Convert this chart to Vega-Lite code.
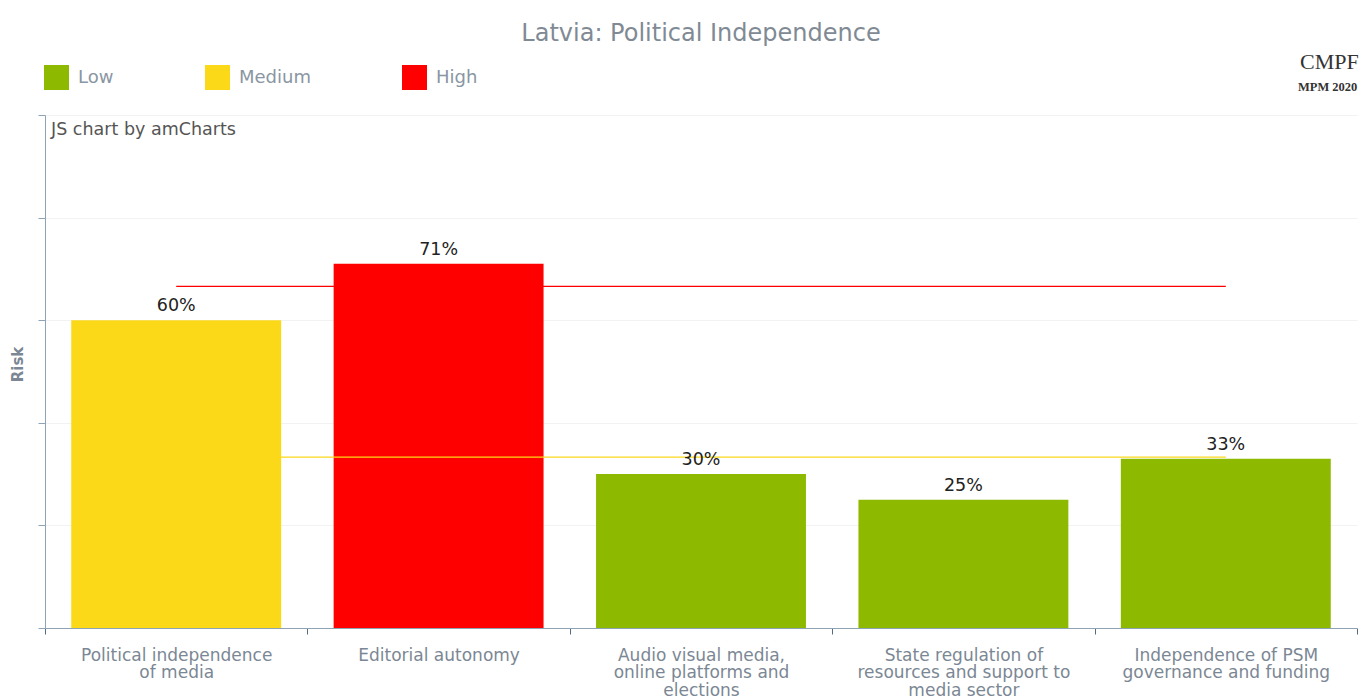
{
  "$schema": "https://vega.github.io/schema/vega-lite/v6.json",
  "autosize": {"type": "none"},
  "width": 1312,
  "height": 513,
  "padding": {"left": 45, "top": 115, "right": 3, "bottom": 69},
  "background": "white",
  "config": {
    "font": "DejaVu Sans",
    "view": {"stroke": null}
  },
  "title": {
    "text": "Latvia: Political Independence",
    "fontSize": 24,
    "fontWeight": "normal",
    "color": "#7f8a94",
    "anchor": "middle",
    "offset": 5
  },
  "datasets": {
    "bars": [
      {"indicator": "Political independence of media", "risk": 60, "level": "Medium", "label": "60%"},
      {"indicator": "Editorial autonomy", "risk": 71, "level": "High", "label": "71%"},
      {"indicator": "Audio visual media, online platforms and elections", "risk": 30, "level": "Low", "label": "30%"},
      {"indicator": "State regulation of resources and support to media sector", "risk": 25, "level": "Low", "label": "25%"},
      {"indicator": "Independence of PSM governance and funding", "risk": 33, "level": "Low", "label": "33%"}
    ],
    "thresholds": [
      {"band": "Medium", "value": 33.3, "from": "Political independence of media", "to": "Independence of PSM governance and funding"},
      {"band": "High", "value": 66.6, "from": "Political independence of media", "to": "Independence of PSM governance and funding"}
    ]
  },
  "layer": [
    {
      "data": {"name": "bars"},
      "mark": {"type": "bar", "width": {"band": 0.8}},
      "encoding": {
        "x": {
          "field": "indicator",
          "type": "nominal",
          "sort": null,
          "scale": {"paddingInner": 0, "paddingOuter": 0},
          "axis": {
            "title": null,
            "labelAngle": 0,
            "labelFontSize": 17,
            "labelColor": "#7b8794",
            "labelPadding": 13,
            "labelLineHeight": 17.5,
            "labelBaseline": "top",
            "labelLimit": 0,
            "tickBand": "extent",
            "tickSize": 6,
            "tickColor": "#4f6b86",
            "domainColor": "#8fa3b6",
            "grid": false,
            "labelExpr": "datum.value == 'Political independence of media' ? ['Political independence', 'of media'] : datum.value == 'Audio visual media, online platforms and elections' ? ['Audio visual media,', 'online platforms and', 'elections'] : datum.value == 'State regulation of resources and support to media sector' ? ['State regulation of', 'resources and support to', 'media sector'] : datum.value == 'Independence of PSM governance and funding' ? ['Independence of PSM', 'governance and funding'] : datum.value"
          }
        },
        "y": {
          "field": "risk",
          "type": "quantitative",
          "scale": {"domain": [0, 100], "nice": false},
          "axis": {
            "title": "Risk",
            "titleFontSize": 15,
            "titleFontWeight": "bold",
            "titleColor": "#7b8794",
            "titlePadding": 12,
            "titleY": 249,
            "labels": false,
            "values": [0, 20, 40, 60, 80, 100],
            "tickSize": 7,
            "tickColor": "#8fa3b6",
            "domainColor": "#8fa3b6",
            "gridColor": "#f2f2f2"
          }
        },
        "color": {
          "field": "level",
          "type": "nominal",
          "scale": {"domain": ["Low", "Medium", "High"], "range": ["#8dba00", "#fbd918", "#ff0000"]},
          "legend": {
            "title": null,
            "orient": "none",
            "legendX": -1,
            "legendY": -50,
            "direction": "horizontal",
            "symbolType": "square",
            "symbolSize": 625,
            "symbolStrokeWidth": 0,
            "symbolOpacity": 1,
            "labelFontSize": 18,
            "labelColor": "#8a96a3",
            "labelOffset": 9,
            "columnPadding": 91
          }
        }
      }
    },
    {
      "data": {"name": "thresholds"},
      "mark": {"type": "rule", "strokeWidth": 1.3},
      "encoding": {
        "x": {"field": "from", "type": "nominal", "sort": null},
        "x2": {"field": "to"},
        "y": {"field": "value", "type": "quantitative"},
        "color": {"field": "band", "type": "nominal", "legend": null}
      }
    },
    {
      "data": {"name": "bars"},
      "mark": {"type": "text", "fontSize": 17.5, "color": "#222222", "baseline": "bottom", "dy": -5},
      "encoding": {
        "x": {"field": "indicator", "type": "nominal", "sort": null},
        "y": {"field": "risk", "type": "quantitative"},
        "text": {"field": "label"}
      }
    },
    {
      "data": {"values": [{}]},
      "mark": {"type": "text", "fontSize": 17.5, "color": "#555555", "align": "left", "baseline": "middle", "dx": 6, "dy": 15},
      "encoding": {
        "x": {"datum": "Political independence of media", "type": "nominal", "bandPosition": 0},
        "y": {"datum": 100, "type": "quantitative"},
        "text": {"value": "JS chart by amCharts"}
      }
    },
    {
      "data": {"values": [{}]},
      "mark": {"type": "text", "font": "Liberation Serif", "fontSize": 22, "color": "#333333", "align": "left", "baseline": "middle", "dx": -57},
      "encoding": {
        "x": {"datum": "Independence of PSM governance and funding", "type": "nominal", "bandPosition": 1},
        "y": {"datum": 110.3, "type": "quantitative"},
        "text": {"value": "CMPF"}
      }
    },
    {
      "data": {"values": [{}]},
      "mark": {"type": "text", "font": "Liberation Serif", "fontSize": 12.5, "fontWeight": "bold", "color": "#333333", "align": "left", "baseline": "middle", "dx": -59},
      "encoding": {
        "x": {"datum": "Independence of PSM governance and funding", "type": "nominal", "bandPosition": 1},
        "y": {"datum": 105.5, "type": "quantitative"},
        "text": {"value": "MPM 2020"}
      }
    }
  ]
}
